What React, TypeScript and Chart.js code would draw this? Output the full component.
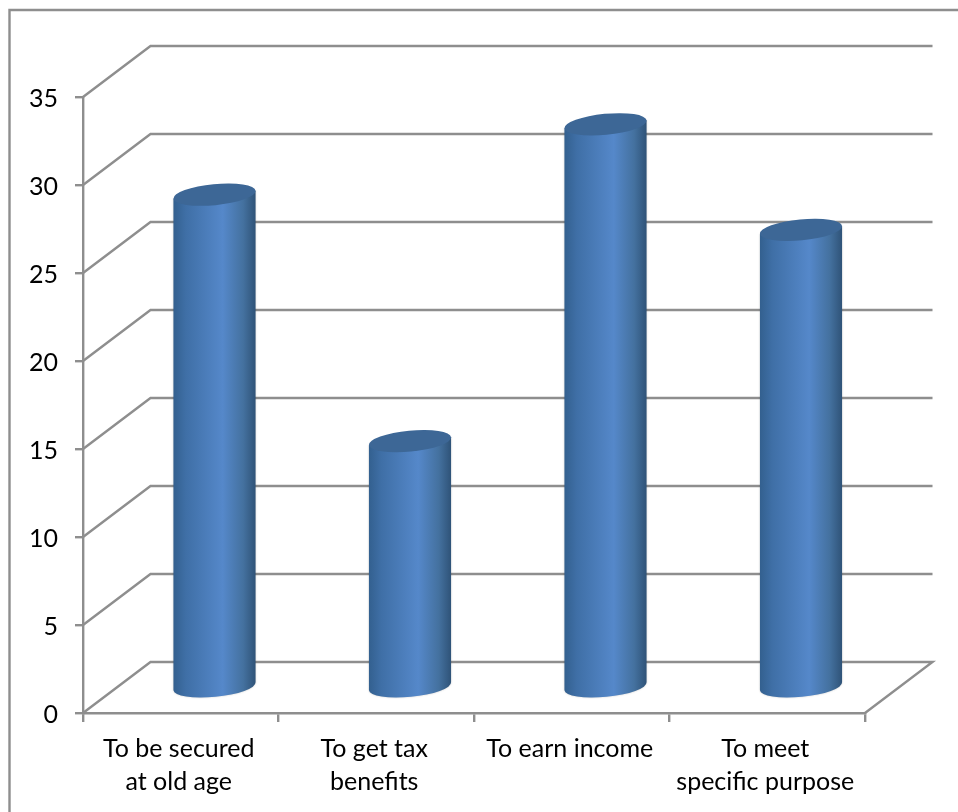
import { useEffect, useRef } from "react";
import { Chart, registerables } from "chart.js";

Chart.register(...registerables);

const categories = [
  ["To be secured", "at old age"],
  ["To get tax", "benefits"],
  ["To earn income"],
  ["To meet", "specific purpose"],
];
const responses = [28, 14, 32, 26];
const yTicks = [0, 5, 10, 15, 20, 25, 30, 35];

const LINE = "#8e8e8e";
const FONT = "Lato, 'Open Sans', sans-serif";
const DEPTH_X = 67.5;
const DEPTH_Y = 51;
const TILT = -5.5 * (Math.PI / 180);
const CAP_RY = 10.5;

// Floor, walls and outer frame of the pseudo-3D box.
const boxPlugin = {
  id: "box",
  beforeDatasetsDraw(chart: any) {
    const { ctx, chartArea, scales } = chart;
    const { left, right } = chartArea;
    ctx.save();
    ctx.strokeStyle = LINE;
    ctx.lineWidth = 2.4;
    ctx.beginPath();
    ctx.moveTo(9.5, chart.height);
    ctx.lineTo(9.5, 10);
    ctx.lineTo(chart.width, 10);
    ctx.stroke();
    for (const v of yTicks) {
      const y = scales.y.getPixelForValue(v);
      ctx.beginPath();
      ctx.moveTo(left, y);
      ctx.lineTo(left + DEPTH_X, y - DEPTH_Y);
      ctx.lineTo(right + DEPTH_X, y - DEPTH_Y);
      if (v === 0) ctx.lineTo(right, y);
      ctx.stroke();
    }
    ctx.restore();
  },
};

// Replaces the flat bars with shaded cylinders standing mid-way along the floor.
const cylinderPlugin = {
  id: "cylinders",
  beforeDatasetDraw(chart: any, args: any) {
    const { ctx } = chart;
    for (const bar of chart.getDatasetMeta(args.index).data) {
      const { x, y, base, width } = bar.getProps(["x", "y", "base", "width"], true);
      const cx = x + DEPTH_X / 2;
      const top = y - DEPTH_Y / 2;
      const bottom = base - DEPTH_Y / 2;
      const rx = width / 2;
      const dy = rx * Math.tan(TILT);

      const body = ctx.createLinearGradient(cx - rx, 0, cx + rx, 0);
      body.addColorStop(0, "#33608f");
      body.addColorStop(0.15, "#3f6fa6");
      body.addColorStop(0.6, "#5588ca");
      body.addColorStop(0.85, "#44719f");
      body.addColorStop(1, "#2f5378");

      ctx.save();
      ctx.shadowColor = "rgba(0,0,0,0.22)";
      ctx.shadowBlur = 2;
      ctx.fillStyle = body;
      ctx.beginPath();
      ctx.moveTo(cx - rx, top - dy);
      ctx.lineTo(cx - rx, bottom - dy);
      ctx.ellipse(cx, bottom, rx / Math.cos(TILT), CAP_RY, TILT, Math.PI, 0, true);
      ctx.lineTo(cx + rx, top + dy);
      ctx.closePath();
      ctx.fill();
      ctx.shadowColor = "transparent";
      ctx.fillStyle = "#3d6796";
      ctx.beginPath();
      ctx.ellipse(cx, top, rx / Math.cos(TILT), CAP_RY, TILT, 0, Math.PI * 2);
      ctx.fill();
      ctx.restore();
    }
    return false;
  },
};

export default function App() {
  const ref = useRef<HTMLCanvasElement>(null);

  useEffect(() => {
    const chart = new Chart(ref.current!, {
      type: "bar",
      data: {
        labels: categories as any,
        datasets: [
          {
            data: responses,
            backgroundColor: "#4f81bd",
            barPercentage: 0.42,
            categoryPercentage: 1,
          },
        ],
      },
      options: {
        responsive: false,
        animation: false,
        events: [],
        layout: { padding: { top: 97, right: 93, left: 0, bottom: 0 } },
        plugins: { legend: { display: false }, tooltip: { enabled: false } },
        scales: {
          x: {
            afterFit: (s: any) => {
              s.height = 99;
            },
            border: { color: LINE, width: 2.4 },
            grid: { drawOnChartArea: false, color: LINE, lineWidth: 2.4, tickLength: 9, offset: true },
            ticks: {
              color: "#000",
              font: { family: FONT, size: 25, lineHeight: 1.3 },
              padding: 11,
              labelOffset: -2,
              maxRotation: 0,
              autoSkip: false,
            },
          },
          y: {
            min: 0,
            max: 35,
            afterFit: (s: any) => {
              s.width = 83;
            },
            border: { color: LINE, width: 2.4 },
            grid: { drawOnChartArea: false, color: LINE, lineWidth: 2.4, tickLength: 8 },
            ticks: {
              color: "#000",
              font: { family: FONT, size: 25 },
              padding: 17,
              labelOffset: 2,
              stepSize: 5,
              autoSkip: false,
            },
          },
        },
      },
      plugins: [boxPlugin, cylinderPlugin],
    } as any);
    return () => chart.destroy();
  }, []);

  return (
    <div style={{ position: "fixed", left: 0, top: 0, width: 958, height: 812, background: "#fff" }}>
      <canvas ref={ref} width={958} height={812} style={{ display: "block" }} />
    </div>
  );
}
